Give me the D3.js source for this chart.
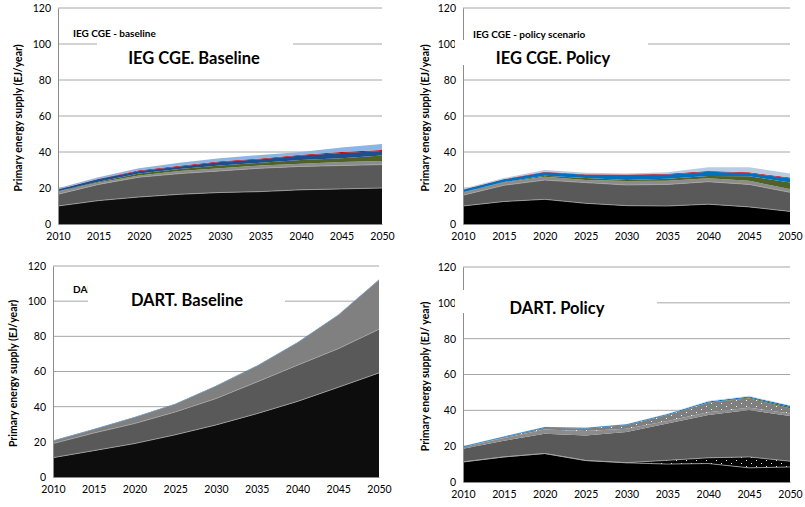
<!DOCTYPE html>
<html lang="en">
<head>
<meta charset="UTF-8"/>
<title>Primary energy supply</title>
<script src="https://cdn.jsdelivr.net/npm/d3@7"></script>
<style>
body { margin: 0; background: #fff; }
text { font-family: Lato, "Open Sans", sans-serif; fill: #000; }
.grid line { stroke: #a6a6a6; stroke-width: 1px; }
</style>
</head>
<body>
<svg id="viz" width="805" height="507"></svg>
<script>
var years = [2010, 2015, 2020, 2025, 2030, 2035, 2040, 2045, 2050];
var yTicks = [0, 20, 40, 60, 80, 100, 120];

// IEG CGE baseline (EJ/year, per layer)
var iegBaseCoal  = [10, 13, 15, 16.5, 17.5, 18, 19, 19.5, 20];
var iegBaseOil   = [6.5, 9, 11, 11.5, 12, 13, 13, 13, 13];
var iegBaseGas   = [1.5, 1, 1, 1.5, 1.5, 1.5, 1.5, 2, 2];
var iegBaseBio   = [0.2, 0.5, 1, 1, 1.5, 1.5, 2, 2, 3];
var iegBaseHydro = [1, 1.5, 1.5, 1.5, 2, 2, 2.5, 3, 2.5];
var iegBaseNuc   = [0.1, 0.2, 0.3, 0.3, 0.4, 0.4, 0.5, 0.5, 0.6];
var iegBaseRen   = [0.5, 0.8, 1.2, 1.7, 1.6, 2, 1.5, 2.5, 3.4];

// IEG CGE policy scenario
var iegPolCoal  = [10, 12.5, 13.7, 11.5, 10.2, 10, 11, 9.5, 7];
var iegPolOil   = [6, 9, 10.7, 11.5, 11.5, 12, 12.5, 12.5, 10.6];
var iegPolGas   = [1.5, 1.5, 1.9, 1.5, 2.2, 2, 1.9, 2, 1.8];
var iegPolBio   = [0.2, 0.3, 0.5, 1, 0.6, 1.2, 1.3, 2.5, 3.6];
var iegPolHydro = [1.3, 1.5, 1.9, 1.8, 2.7, 2.3, 2.3, 1.8, 2.4];
var iegPolNuc   = [0.1, 0.2, 0.3, 0.4, 0.3, 0.4, 0.4, 0.4, 0.4];
var iegPolRen   = [0.5, 0.5, 1, 0.8, 0.5, 0.8, 2.1, 2.8, 2.2];

// DART baseline
var dartBaseCoal = [11, 15, 19, 24, 29.6, 36, 43, 51, 59.2];
var dartBaseOil  = [8, 10, 11.4, 13, 15, 18, 20.6, 22, 24.8];
var dartBaseGas  = [1.5, 2, 3.4, 4.4, 7, 9, 12.7, 19, 28];
var dartBaseRen  = [0.3, 0.3, 0.3, 0.3, 0.3, 0.3, 0.3, 0.3, 0.3];

// DART policy
var dartPolCoal    = [11.2, 14, 15.9, 12, 10.7, 10, 10.3, 7.9, 8.4];
var dartPolCoalCcs = [0, 0, 0, 0, 0.1, 2.1, 3.2, 6.1, 3.2];
var dartPolOil     = [7.3, 9, 11, 14, 17.1, 20.6, 23.9, 26.2, 25.2];
var dartPolGas     = [1, 1.5, 2.4, 2.5, 1.8, 1.3, 1.6, 1.3, 1.5];
var dartPolGasCcs  = [0.1, 0.5, 1, 1.4, 2.1, 3.4, 5.3, 5.2, 2.8];
var dartPolBio     = [0, 0, 0, 0, 0, 0.1, 0.1, 0.4, 0.8];
var dartPolHydro   = [0.4, 0.4, 0.4, 0.4, 0.5, 0.5, 0.6, 0.6, 0.6];
var dartPolRen     = [0.1, 0.1, 0.1, 0.1, 0.1, 0.2, 0.3, 0.4, 0.3];

var svg = d3.select("#viz");

// dotted fills (CCS layers)
var defs = svg.append("defs");
function dotPattern(id, bg) {
	var p = defs.append("pattern").attr("id", id)
		.attr("patternUnits", "userSpaceOnUse")
		.attr("width", 10).attr("height", 6);
	p.append("rect").attr("width", 10).attr("height", 6).attr("fill", bg);
	p.append("rect").attr("x", 1).attr("y", 1).attr("width", 1).attr("height", 1).attr("fill", "#fff");
	p.append("rect").attr("x", 6).attr("y", 4).attr("width", 1).attr("height", 1).attr("fill", "#fff");
}
dotPattern("dotBlack", "#050505");
dotPattern("dotGray", "#7f7f7f");

var panels = [
	{ x0: 58, x1: 382, y0: 224, y1: 8, note: "IEG CGE - baseline", noteX: 73, noteY: 37,
	  title: "IEG CGE. Baseline", titleX: 194, titleY: 64, box: [97, 40, 196, 30],
	  ylabel: "Primary energy supply (EJ/year)", ylabelX: 22,
	  layers: [[iegBaseCoal, "#0d0d0d"], [iegBaseOil, "#595959"], [iegBaseGas, "#8c8c8c"],
	           [iegBaseBio, "#4f6228"], [iegBaseHydro, "#1f4e8c"], [iegBaseNuc, "#c0000a"],
	           [iegBaseRen, "#8db4e2"]] },
	{ x0: 463, x1: 790, y0: 224, y1: 8, note: "IEG CGE - policy scenario", noteX: 473, noteY: 38,
	  title: "IEG CGE. Policy", titleX: 553, titleY: 64, box: [455, 40, 193, 25],
	  ylabel: "Primary energy supply  (EJ/year)", ylabelX: 429,
	  layers: [[iegPolCoal, "#000000"], [iegPolOil, "#595959"], [iegPolGas, "#8c8c8c"],
	           [iegPolBio, "#4f6228"], [iegPolHydro, "#0070c0"], [iegPolNuc, "#c0000a"],
	           [iegPolRen, "#b8cce4"]] },
	{ x0: 53, x1: 379, y0: 477, y1: 266, note: "DART - baseline", noteX: 73, noteY: 293,
	  title: "DART. Baseline", titleX: 187, titleY: 306, box: [88, 282, 197, 30],
	  ylabel: "Primary energy  supply (EJ/year)", ylabelX: 17,
	  layers: [[dartBaseCoal, "#0d0d0d"], [dartBaseOil, "#595959"], [dartBaseGas, "#808080"],
	           [dartBaseRen, "#2e75b6"]] },
	{ x0: 463, x1: 790, y0: 482, y1: 267, note: null,
	  title: "DART. Policy", titleX: 557, titleY: 314, box: [455, 290, 202, 23],
	  ylabel: "Primary energy supply  (EJ/ year)", ylabelX: 429,
	  layers: [[dartPolCoal, "#000000"], [dartPolCoalCcs, "url(#dotBlack)"], [dartPolOil, "#595959"],
	           [dartPolGas, "#8c8c8c"], [dartPolGasCcs, "url(#dotGray)"], [dartPolBio, "#4f6228"],
	           [dartPolHydro, "#0070c0"], [dartPolRen, "#c6d9f1"]] }
];

panels.forEach(function(p) {
	var x = d3.scaleLinear().domain([2010, 2050]).range([p.x0, p.x1]);
	var y = d3.scaleLinear().domain([0, 120]).range([p.y0, p.y1]);
	var g = svg.append("g");

	// gridlines
	g.append("g").attr("class", "grid")
		.selectAll("line").data(yTicks.filter(function(t) { return t > 0; }))
		.enter().append("line")
		.attr("x1", p.x0).attr("x2", p.x1)
		.attr("y1", function(d) { return y(d); }).attr("y2", function(d) { return y(d); });

	// stacked areas
	var keys = p.layers.map(function(l, i) { return "k" + i; });
	var rows = years.map(function(yr, j) {
		var r = { year: yr };
		p.layers.forEach(function(l, i) { r["k" + i] = l[0][j]; });
		return r;
	});
	var series = d3.stack().keys(keys)(rows);
	var area = d3.area()
		.x(function(d) { return x(d.data.year); })
		.y0(function(d) { return y(d[0]); })
		.y1(function(d) { return y(d[1]); });
	g.selectAll("path.layer").data(series).enter().append("path")
		.attr("class", "layer")
		.attr("d", area)
		.attr("fill", function(d, i) { return p.layers[i][1]; });

	// light edges between the fossil layers
	var edge = d3.line()
		.x(function(d) { return x(d.data.year); })
		.y(function(d) { return y(d[1]); });
	g.selectAll("path.edge").data(series.slice(0, 2)).enter().append("path")
		.attr("class", "edge")
		.attr("d", edge)
		.attr("fill", "none")
		.attr("stroke", "#a6a6a6")
		.attr("stroke-width", 0.8);

	// axes
	var yAxis = d3.axisLeft(y).tickValues(yTicks).tickSize(0).tickPadding(7);
	var ya = g.append("g").attr("transform", "translate(" + p.x0 + ",0)").call(yAxis);
	ya.select(".domain").attr("stroke", "#8c8c8c");
	var xAxis = d3.axisBottom(x).tickValues(years).tickFormat(d3.format("d")).tickSize(0).tickPadding(9);
	var xa = g.append("g").attr("transform", "translate(0," + p.y0 + ")").call(xAxis);
	xa.select(".domain").attr("stroke", "#8c8c8c");
	g.selectAll(".tick text").attr("fill", "#000").style("font-size", "10.5px");

	if (p.note) {
		g.append("text").attr("x", p.noteX).attr("y", p.noteY)
			.style("font-size", "10px").style("font-weight", "bold").text(p.note);
	}

	// title box
	g.append("rect").attr("x", p.box[0]).attr("y", p.box[1])
		.attr("width", p.box[2]).attr("height", p.box[3]).attr("fill", "#fff");
	g.append("text").attr("x", p.titleX).attr("y", p.titleY)
		.attr("text-anchor", "middle")
		.style("font-size", "16.5px").style("font-weight", "bold").text(p.title);

	g.append("text")
		.attr("transform", "translate(" + p.ylabelX + "," + ((p.y0 + p.y1) / 2 + 2) + ") rotate(-90)")
		.attr("text-anchor", "middle")
		.style("font-size", "10.5px").style("font-weight", "bold").text(p.ylabel);
});
</script>
</body>
</html>
